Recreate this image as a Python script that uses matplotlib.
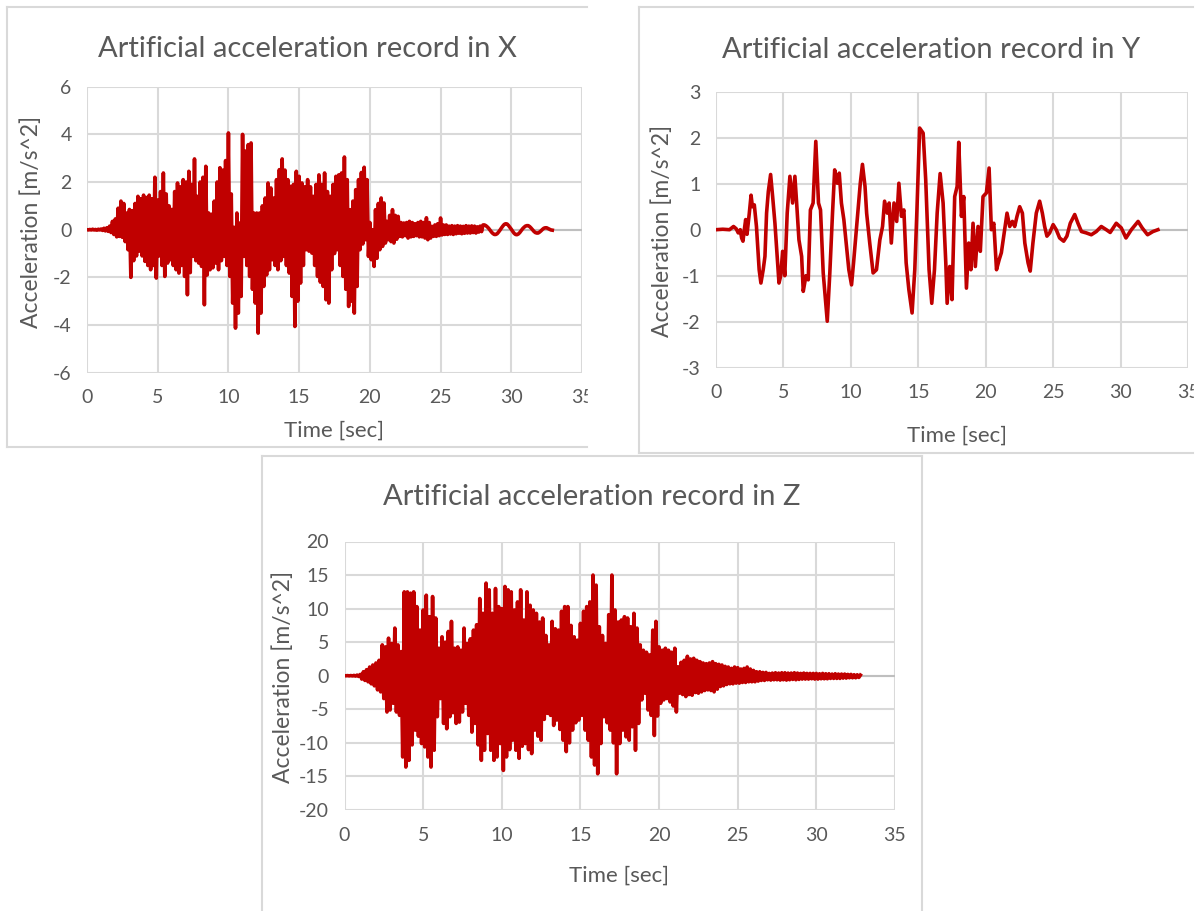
import numpy as np
import matplotlib.pyplot as plt
from matplotlib.lines import Line2D
from matplotlib.patches import Rectangle

# sample step of the X and Z records [sec]
DT = 0.1

# X record, one row per second (10 samples)
acc_x = [
    0.00, -0.01, 0.01, -0.01, 0.02, -0.01, 0.01, -0.02, 0.02, -0.01,
    0.03, -0.03, 0.06, -0.05, 0.08, -0.07, 0.15, -0.12, 0.35, -0.20,
    0.45, -0.30, 0.90, -0.28, 1.20, -0.32, 1.10, -0.50, 0.70, -0.84,
    0.85, -2.00, 0.80, -1.30, 1.10, -1.10, 1.40, -0.90, 1.30, -1.10,
    1.45, -1.33, 1.35, -1.50, 1.45, -1.68, 1.30, -1.50, 2.20, -2.03,
    1.25, -1.10, 1.60, -1.50, 2.38, -1.96, 1.50, -1.40, 1.00, -1.26,
    0.85, -1.50, 1.60, -1.68, 1.96, -1.82, 1.80, -1.50, 2.10, -1.96,
    2.00, -2.73, 2.45, -1.80, 1.90, -1.12, 2.97, -1.30, 1.40, -1.40,
    2.00, -1.54, 2.20, -3.15, 2.66, -1.90, 0.70, -1.68, 0.65, -1.60,
    1.20, -1.40, 2.00, -1.68, 2.60, -1.30, 2.50, -1.12, 2.90, -1.50,
    4.06, -1.96, 1.50, -3.08, 0.10, -4.13, 0.70, -3.50, 0.28, -2.80,
    4.00, -1.12, 3.30, -1.50, 3.57, -1.96, 3.64, -2.50, 0.70, -3.08,
    0.70, -4.34, 0.70, -3.50, 1.00, -2.38, 1.33, -1.90, 1.96, -1.68,
    1.75, -1.26, 1.33, -1.50, 2.10, -1.68, 2.52, -1.30, 2.97, -1.12,
    2.50, -1.50, 2.10, -1.82, 1.82, -2.80, 1.90, -4.06, 2.45, -3.00,
    2.24, -2.24, 1.96, -1.50, 1.80, -0.84, 2.10, -0.90, 1.80, -0.98,
    1.40, -1.50, 1.90, -1.96, 2.30, -2.20, 1.90, -2.38, 2.38, -2.94,
    1.60, -3.08, 1.40, -1.68, 1.90, -1.00, 2.24, -0.84, 2.30, -1.50,
    2.38, -1.96, 3.05, -2.50, 2.10, -3.22, 0.84, -3.00, 1.20, -3.50,
    1.68, -2.38, 2.10, -0.84, 2.40, -0.60, 2.62, -0.42, 2.10, -1.12,
    0.30, -1.26, 0.00, -1.54, 0.84, -1.20, 1.10, -0.84, 1.33, -0.70,
    1.12, -0.56, 0.35, -0.42, 0.60, -0.50, 0.84, -0.56, 0.60, -0.40,
    0.56, -0.28, 0.30, -0.30, 0.28, -0.25, 0.30, -0.35, 0.35, -0.30,
    0.30, -0.28, 0.25, -0.25, 0.30, -0.30, 0.35, -0.30, 0.30, -0.35,
    0.50, -0.42, 0.30, -0.35, 0.14, -0.28, 0.20, -0.28, 0.25, -0.25,
    0.49, -0.22, 0.20, -0.20, 0.20, -0.20, 0.15, -0.18, 0.17, -0.20,
    0.15, -0.17, 0.17, -0.15, 0.15, -0.17, 0.14, -0.15, 0.17, -0.14,
    0.15, -0.14, 0.16, -0.12, 0.15, -0.14, 0.12, -0.10, 0.15, -0.08,
    0.20, 0.20, 0.17, 0.12, 0.06, -0.02, -0.10, -0.16, -0.20, -0.20,
    -0.17, -0.10, -0.02, 0.07, 0.15, 0.22, 0.25, 0.24, 0.18, 0.10,
    0.02, -0.07, -0.15, -0.20, -0.21, -0.18, -0.12, -0.04, 0.04, 0.10,
    0.15, 0.17, 0.17, 0.13, 0.07, 0.00, -0.07, -0.12, -0.14, -0.14,
    -0.10, -0.05, 0.01, 0.06, 0.08, 0.08, 0.05, 0.02, -0.01, -0.02,
]

# Z record, one row per second (10 samples)
acc_z = [
    0.00, 0.00, 0.02, -0.02, 0.03, -0.03, 0.05, -0.05, 0.10, -0.10,
    0.20, -0.50, 0.60, -0.70, 0.90, -0.90, 1.30, -1.20, 1.60, -1.50,
    1.90, -2.10, 2.30, -2.40, 4.60, -3.40, 4.30, -5.40, 5.60, -5.10,
    4.80, -4.10, 7.10, -5.40, 4.60, -5.90, 3.60, -12.10, 12.50, -13.60,
    12.50, -12.60, 12.30, -10.30, 12.50, -8.10, 10.30, -9.00, 6.80, -10.10,
    9.80, -10.60, 12.00, -12.10, 8.80, -13.60, 11.80, -11.10, 8.60, -6.10,
    4.10, -3.40, 5.80, -7.10, 5.00, -7.90, 6.60, -6.10, 8.10, -5.50,
    4.10, -7.10, 4.30, -6.90, 3.80, -5.40, 7.10, -4.10, 4.80, -5.90,
    5.50, -8.40, 6.80, -7.10, 7.60, -10.30, 11.50, -12.60, 9.30, -11.10,
    13.80, -8.60, 12.80, -11.10, 9.30, -12.60, 13.00, -12.10, 10.30, -10.10,
    10.00, -14.10, 13.30, -12.10, 12.80, -11.00, 12.50, -9.60, 9.80, -11.10,
    11.00, -12.30, 12.80, -10.50, 8.30, -10.10, 12.50, -11.00, 10.50, -11.60,
    9.80, -8.10, 9.30, -9.00, 8.00, -9.60, 8.60, -6.50, 6.00, -5.60,
    4.60, -5.90, 8.10, -7.40, 7.00, -6.60, 6.80, -8.00, 9.60, -9.60,
    10.30, -11.30, 10.30, -10.00, 7.50, -8.10, 5.80, -7.00, 5.30, -6.60,
    7.80, -5.90, 9.60, -8.10, 10.30, -9.60, 11.00, -12.10, 15.00, -13.30,
    13.50, -14.60, 7.30, -10.10, 6.00, -6.10, 4.80, -7.00, 9.10, -8.10,
    15.00, -10.00, 9.80, -14.60, 8.00, -10.10, 8.30, -8.10, 8.80, -9.10,
    8.60, -9.60, 7.30, -7.60, 9.30, -11.10, 7.10, -7.10, 4.60, -3.60,
    3.80, -2.60, 3.50, -5.10, 3.10, -5.90, 6.80, -8.90, 8.10, -6.00,
    4.30, -4.10, 3.80, -3.60, 4.10, -3.40, 3.80, -3.90, 3.50, -4.50,
    4.10, -5.40, 1.34, -2.60, 2.00, -2.80, 2.30, -3.10, 2.90, -2.80,
    2.50, -2.90, 2.60, -2.50, 2.30, -2.60, 2.10, -2.40, 1.90, -2.20,
    1.80, -2.10, 1.90, -2.20, 2.10, -2.40, 1.80, -2.00, 1.70, -1.60,
    1.60, -1.50, 1.40, -1.30, 1.30, -1.20, 1.10, -1.20, 1.30, -1.10,
    1.20, -1.10, 1.00, -1.00, 1.10, -1.00, 1.30, -0.90, 1.00, -0.90,
    0.80, -0.90, 0.60, -0.80, 0.60, -0.70, 0.50, -0.70, 0.50, -0.60,
    0.35, -0.65, 0.40, -0.60, 0.45, -0.60, 0.40, -0.65, 0.45, -0.60,
    0.45, -0.65, 0.40, -0.60, 0.40, -0.55, 0.45, -0.60, 0.40, -0.55,
    0.35, -0.50, 0.40, -0.50, 0.35, -0.50, 0.35, -0.45, 0.35, -0.50,
    0.35, -0.50, 0.30, -0.45, 0.35, -0.45, 0.30, -0.45, 0.30, -0.40,
    0.25, -0.40, 0.30, -0.40, 0.25, -0.40, 0.25, -0.35, 0.25, -0.35,
    0.20, -0.30, 0.20, -0.30, 0.15, -0.30, 0.15, -0.25, 0.10,
]

# Y record, read as polyline vertices (time, acceleration)
t_y = [
    0.0, 0.5, 1.0, 1.3, 1.5, 1.65, 1.8, 1.9, 2.0, 2.1, 2.2, 2.3, 2.47, 2.6, 2.7, 2.84,
    3.0, 3.2, 3.33, 3.5, 3.63, 3.75, 3.88, 4.05, 4.2, 4.37, 4.54, 4.67, 4.8, 4.94,
    5.1, 5.28, 5.48, 5.68, 5.85, 5.98, 6.15, 6.35, 6.47, 6.67, 6.84, 7.0, 7.2, 7.4,
    7.6, 7.75, 7.95, 8.25, 8.44, 8.64, 8.8, 8.99, 9.14, 9.3, 9.48, 9.68, 9.85, 10.05,
    10.2, 10.37, 10.54, 10.7, 10.86, 11.05, 11.17, 11.4, 11.65, 11.9, 12.15, 12.35,
    12.5, 12.7, 12.84, 13.0, 13.2, 13.4, 13.56, 13.75, 13.93, 14.1, 14.3, 14.54,
    14.74, 14.9, 15.1, 15.36, 15.55, 15.8, 16.0, 16.2, 16.4, 16.62, 16.84, 17.04,
    17.14, 17.33, 17.5, 17.7, 17.88, 18.0, 18.2, 18.37, 18.57, 18.74, 18.9, 19.06,
    19.23, 19.43, 19.6, 19.8, 20.05, 20.25, 20.42, 20.6, 20.8, 21.0, 21.16, 21.4,
    21.58, 21.78, 21.98, 22.15, 22.32, 22.52, 22.72, 22.9, 23.14, 23.3, 23.5, 23.75,
    24.0, 24.2, 24.37, 24.54, 24.74, 25.0, 25.23, 25.48, 25.78, 26.02, 26.27, 26.6,
    26.84, 27.1, 27.46, 27.83, 28.2, 28.57, 28.94, 29.23, 29.68, 30.05, 30.4, 30.8,
    31.3, 31.6, 32.0, 32.4, 32.77,
]
acc_y = [
    0.0, 0.01, 0.0, 0.07, 0.02, -0.07, 0.0, -0.18, -0.25, 0.0, 0.22, -0.1, 0.36, 0.75, 0.5, 0.54,
    0.07, -0.87, -1.16, -0.87, -0.58, 0.36, 0.83, 1.2, 0.72, 0.14, -0.58, -1.16, -1.0, -0.47,
    -1.0, 0.36, 1.16, 0.58, 1.16, 0.58, -0.22, -0.58, -1.34, -1.0, -1.09, 0.43, 0.58, 1.92,
    0.58, 0.43, -0.94, -1.99, -0.94, 0.36, 1.3, 1.01, 1.23, 0.58, 0.22, -0.36, -0.87, -1.2,
    -0.72, -0.14, 0.43, 1.01, 1.42, 0.94, 0.36, -0.29, -0.94, -0.87, -0.22, 0.07,
    0.62, 0.36, 0.58, -0.29, 0.58, 0.18, 1.01, 0.29, 0.43, -0.72, -1.3, -1.81,
    -0.87, 0.43, 2.21, 2.1, 1.09, -0.87, -1.6, -0.87, 0.36, 1.22, 0.58, -0.72,
    -1.6, -0.8, -1.52, 0.72, 0.94, 1.9, 0.29, 0.72, -1.27, -0.29, -0.87, 0.14,
    -0.8, 0.07, -0.47, 0.72, 0.8, 1.34, 0.0, 0.14, -0.87, -0.65, -0.5, 0.0,
    0.36, 0.07, 0.18, 0.07, 0.29, 0.5, 0.36, -0.29, -0.72, -0.9, -0.29, 0.36,
    0.62, 0.36, 0.07, -0.14, -0.07, 0.11, 0.0, -0.18, -0.25, -0.14, 0.14, 0.33,
    0.14, -0.04, -0.07, -0.11, -0.04, 0.07, 0.0, -0.06, 0.14, 0.04, -0.18, 0.0,
    0.18, 0.04, -0.11, -0.04, 0.0,
]

x_ticks = [0, 5, 10, 15, 20, 25, 30, 35]
y_ticks_x = [-6, -4, -2, 0, 2, 4, 6]
y_ticks_y = [-3, -2, -1, 0, 1, 2, 3]
y_ticks_z = [-20, -15, -10, -5, 0, 5, 10, 15, 20]

W, H = 1202, 911
RED = '#C00000'
TXT = '#595959'
GRID = '#D9D9D9'
AXIS0 = '#BFBFBF'

plt.rcParams['font.family'] = ['Lato', 'DejaVu Sans']
plt.rcParams['axes.unicode_minus'] = False

fig = plt.figure(figsize=(W / 100, H / 100), dpi=100)
fig.patch.set_facecolor('white')


def px_rect(l, t, r, b):
    return [l / W, 1 - b / H, (r - l) / W, (b - t) / H]


def fx(x):
    return x / W


def fy(y):
    return 1 - y / H


def border(x0, y0, x1, y1):
    fig.add_artist(Line2D([fx(x0), fx(x1)], [fy(y0), fy(y1)], color=GRID,
                          lw=1.5, transform=fig.transFigure, zorder=20))


# chart frames (cropped screenshot style)
border(7, 7, 587, 7)
border(7, 7, 7, 447)
border(7, 447, 587, 447)
border(639, 7, 1193, 7)
border(639, 7, 639, 453)
border(639, 453, 1193, 453)
border(262, 456, 922, 456)
border(262, 456, 262, 911)
border(922, 456, 922, 911)


def panel(rect, t, acc, yt, title, tpos, xlpos, ylpos):
    ax = fig.add_axes(rect)
    ax.plot(t, acc, color=RED, lw=2.6, solid_joinstyle='round', zorder=3)
    ax.axhline(0, color=AXIS0, lw=1.5, zorder=2)
    ax.set_xlim(0, 35)
    ax.set_ylim(yt[0], yt[-1])
    ax.set_xticks(x_ticks)
    ax.set_yticks(yt)
    ax.grid(True, color=GRID, lw=1.5)
    ax.set_axisbelow(True)
    for s in ax.spines.values():
        s.set_visible(False)
    ax.tick_params(length=0, labelsize=14, labelcolor=TXT)
    ax.tick_params(axis='y', pad=11)
    ax.tick_params(axis='x', pad=12)
    fig.text(fx(tpos[0]), fy(tpos[1]), title, fontsize=21, color=TXT,
             ha='center', va='center')
    fig.text(fx(xlpos[0]), fy(xlpos[1]), 'Time [sec]', fontsize=16, color=TXT,
             ha='center', va='center')
    fig.text(fx(ylpos[0]), fy(ylpos[1]), 'Acceleration [m/s^2]', fontsize=16.5,
             color=TXT, ha='center', va='center', rotation=90)
    return ax


t_x = np.arange(len(acc_x)) * DT
t_z = np.arange(len(acc_z)) * DT

panel(px_rect(87, 86.7, 582, 372.7), t_x, acc_x, y_ticks_x,
      'Artificial acceleration record in X', (307, 49), (334, 431), (31, 222))
panel(px_rect(716, 91.7, 1188, 367.7), t_y, acc_y, y_ticks_y,
      'Artificial acceleration record in Y', (931, 50), (957, 436), (662, 231))
panel(px_rect(344.5, 541.5, 895, 810), t_z, acc_z, y_ticks_z,
      'Artificial acceleration record in Z', (592, 497), (619, 876), (283, 677))

# the screenshot crops the last "35" labels of the top charts
fig.add_artist(Rectangle((fx(588), fy(420)), fx(50), 40 / H, color='white',
                         transform=fig.transFigure, zorder=10))
fig.add_artist(Rectangle((fx(1194), fy(420)), fx(10), 40 / H, color='white',
                         transform=fig.transFigure, zorder=10))

fig.savefig('out.png', dpi=100, facecolor='white')
